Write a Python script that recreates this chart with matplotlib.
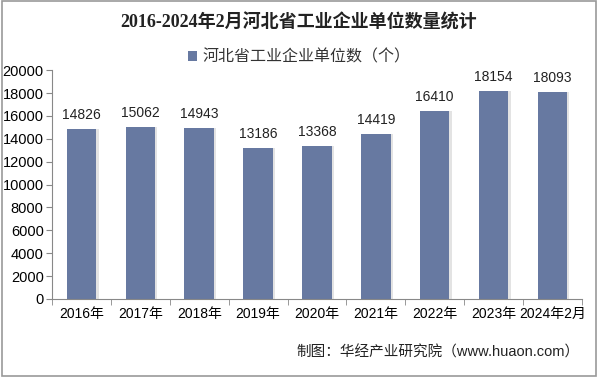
import matplotlib.pyplot as plt
from matplotlib.patches import Rectangle

plt.rcParams['font.family'] = ['Liberation Sans', 'Noto Sans CJK SC', 'DejaVu Sans']

# data
years = ['2016年', '2017年', '2018年', '2019年', '2020年', '2021年', '2022年', '2023年', '2024年2月']
counts = [14826, 15062, 14943, 13186, 13368, 14419, 16410, 18154, 18093]
bar_color = '#6779A1'

fig = plt.figure(figsize=(5.98, 3.77), dpi=100)
ax = fig.add_axes([0.087, 0.207, 0.886, 0.607])

x = list(range(len(years)))
# soft shadow behind the bars
ax.bar([i + 0.04 for i in x], counts, width=0.5, color='#e3e3e3', zorder=1)
bars = ax.bar(x, counts, width=0.5, color=bar_color, zorder=2, label='河北省工业企业单位数（个）')

for i, v in enumerate(counts):
    ax.text(i, v + 600, str(v), ha='center', va='bottom', fontsize=10, color='#222222')

ax.set_xlim(-0.5, len(years) - 0.5)
ax.set_ylim(0, 20000)
ax.set_yticks(range(0, 20001, 2000))
ax.set_xticks(x)
ax.set_xticklabels(years, fontsize=10)
ax.set_xticks([i - 0.5 for i in range(len(years) + 1)], minor=True)
ax.tick_params(axis='x', which='major', length=0, pad=6)
ax.tick_params(axis='x', which='minor', length=4, color='#888888')
ax.tick_params(axis='y', length=4, color='#888888', labelsize=10.5, pad=2)
for s in ['top', 'right']:
    ax.spines[s].set_visible(False)
for s in ['left', 'bottom']:
    ax.spines[s].set_color('#888888')

fig.text(0.5, 0.94, '2016-2024年2月河北省工业企业单位数量统计', ha='center', va='center',
         fontsize=13, fontweight='bold', color='#222222',
         family=['Liberation Serif', 'Noto Sans CJK SC', 'DejaVu Sans'])
fig.legend(handles=[bars], loc='center', bbox_to_anchor=(0.5, 0.848), frameon=False,
           fontsize=11.5, handlelength=0.6, handleheight=0.6, handletextpad=0.3,
           labelcolor='#333333')
fig.text(0.97, 0.066, '制图：华经产业研究院（www.huaon.com）', ha='right', va='center',
         fontsize=10.5, color='#222222')

fig.patches.append(Rectangle((0.003, 0.003), 0.994, 0.994, transform=fig.transFigure,
                             fill=False, edgecolor='#999999', linewidth=1.2))

fig.savefig('out.png', dpi=100)
